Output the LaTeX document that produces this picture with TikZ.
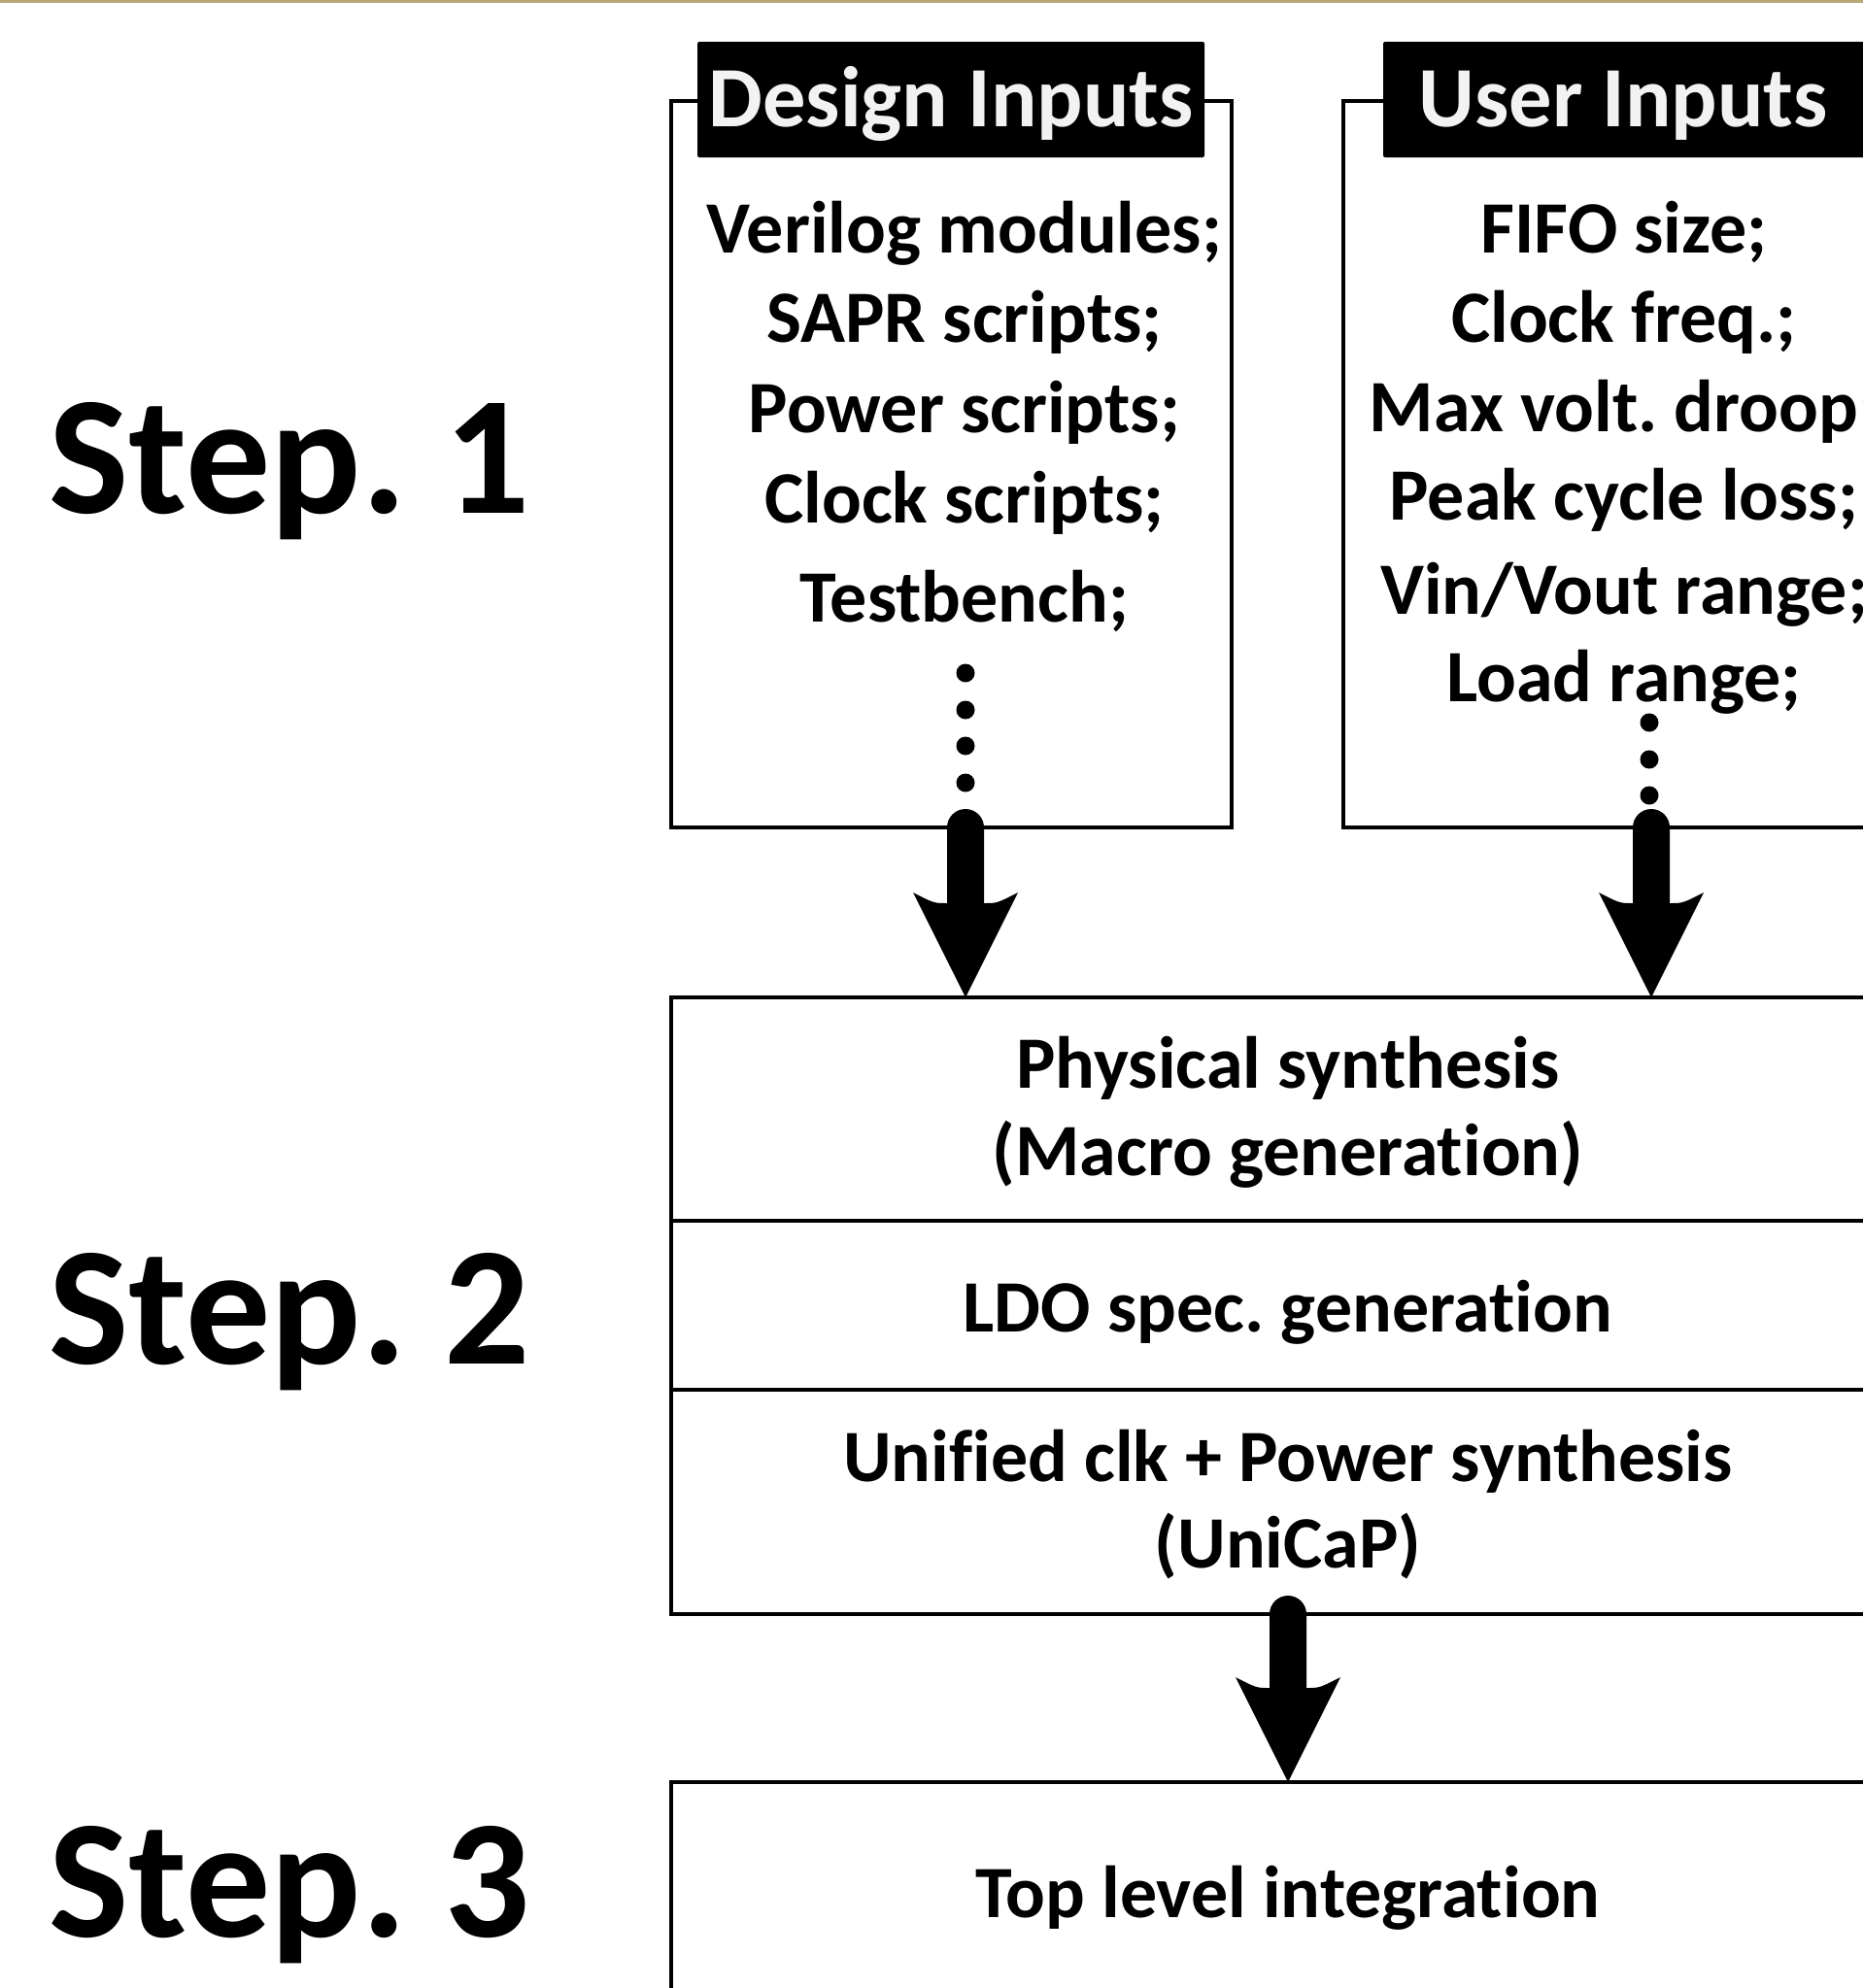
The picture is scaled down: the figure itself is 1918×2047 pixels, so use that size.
\documentclass[tikz,border=0pt]{standalone}
\usepackage{fontspec}
\setmainfont{Carlito}[Ligatures=CommonOff]
\frenchspacing
\usetikzlibrary{calc}
\definecolor{goldline}{RGB}{184,168,120}
\definecolor{hdrwhite}{RGB}{242,242,242}
\newcommand{\blkarrow}[2]{%
  \fill let \p1=(#1) in (\p1) circle[radius=7.6pt];
  \fill let \p1=(#1), \p2=(#2) in
    (\x1-7.6pt,\y1) -- (\x1+7.6pt,\y1) -- (\x1+7.6pt,\y2+38.8pt)
    .. controls (\x1+13pt,\y2+38.8pt) .. (\x1+21.6pt,\y2+43.2pt)
    -- (\x1,\y2) -- (\x1-21.6pt,\y2+43.2pt)
    .. controls (\x1-13pt,\y2+38.8pt) .. (\x1-7.6pt,\y2+38.8pt) -- cycle;}
\begin{document}
\frenchspacing
\begin{tikzpicture}[x=0.4pt,y=-0.4pt,
  frame/.style={draw=black,line width=1.6pt,inner sep=0pt,outer sep=0pt,anchor=north west},
  hdr/.style={fill=black,rounded corners=0.8pt,inner sep=0pt,outer sep=0pt,anchor=north west,minimum height=47.6pt},
  hdrtext/.style={text=hdrwhite,font=\fontsize{35.4pt}{40pt}\selectfont\bfseries,inner sep=0pt,anchor=base},
  body/.style={font=\fontsize{30.4pt}{36pt}\selectfont\bfseries,inner sep=0pt,anchor=base},
  steplbl/.style={font=\fontsize{69.6pt}{80pt}\selectfont\bfseries,inner sep=0pt,anchor=base west},
  dotmark/.style={fill=black}]
\useasboundingbox (0,0) rectangle (1918,2047);
\clip (0,0) rectangle (1918,2047);
\fill[goldline] (0,0) rectangle (1918,3);

% step labels
\node[steplbl] (s1) at (50,528) {Step. 1};
\node[steplbl] (s2) at (50,1404) {Step. 2};
\node[steplbl] (s3) at (50,1994) {Step. 3};

% input boxes
\node[frame,minimum width=230.8pt,minimum height=299.2pt] (design) at (691,104) {};
\node[frame,minimum width=232pt,minimum height=299.2pt] (user) at (1383,104) {};
\node[hdr,minimum width=208.8pt] (dhdr) at (718,43) {};
\node[hdr,minimum width=200pt] (uhdr) at (1424,43) {};
\node[hdrtext] (dhdrt) at (979,130) {Design Inputs};
\node[hdrtext] (uhdrt) at (1671,130) {User Inputs};

\node[body] (d1) at (993,260) {Verilog modules;};
\node[body] (d2) at (993,352) {SAPR scripts;};
\node[body] (d3) at (993,445) {Power scripts;};
\node[body] (d4) at (993,538) {Clock scripts;};
\node[body] (d5) at (993,640) {Testbench;};
\foreach \yy in {693,731,768,806} \fill[dotmark] (994,\yy) circle[radius=3.8pt];

\node[body] (u1) at (1672,260) {FIFO size;};
\node[body] (u2) at (1672,352) {Clock freq.;};
\node[body] (u3) at (1672,444) {Max volt. droop;};
\node[body] (u4) at (1672,535) {Peak cycle loss;};
\node[body] (u5) at (1672,632) {Vin/Vout range;};
\node[body] (u6) at (1672,722) {Load range;};
\foreach \yy in {744,782,819} \fill[dotmark] (1698,\yy) circle[radius=3.8pt];

% step 2 boxes
\node[frame,minimum width=508pt,minimum height=92pt] (phys) at (691,1027) {};
\node[frame,minimum width=508pt,minimum height=69.6pt] (ldo) at (691,1257) {};
\node[frame,minimum width=508pt,minimum height=92.4pt] (unicap) at (691,1431) {};
\node[body] (p1) at (1326,1120) {Physical synthesis};
\node[body] (p2) at (1326,1210) {(Macro generation)};
\node[body] (l1) at (1326,1371) {LDO spec. generation};
\node[body] (c1) at (1326,1525) {Unified clk + Power synthesis};
\node[body] (c2) at (1326,1614) {(UniCaP)};

% step 3 box
\node[frame,minimum width=508pt,minimum height=106pt] (top) at (691,1835) {};
\node[body] (t1) at (1326,1974) {Top level integration};

% arrows
\coordinate (a1s) at (994,852);
\coordinate (a1e) at (994,1027);
\coordinate (a2s) at (1700,852);
\coordinate (a2e) at (1700,1027);
\coordinate (a3s) at (1326,1662);
\coordinate (a3e) at (1326,1835);
\blkarrow{a1s}{a1e}
\blkarrow{a2s}{a2e}
\blkarrow{a3s}{a3e}
\end{tikzpicture}
\end{document}
